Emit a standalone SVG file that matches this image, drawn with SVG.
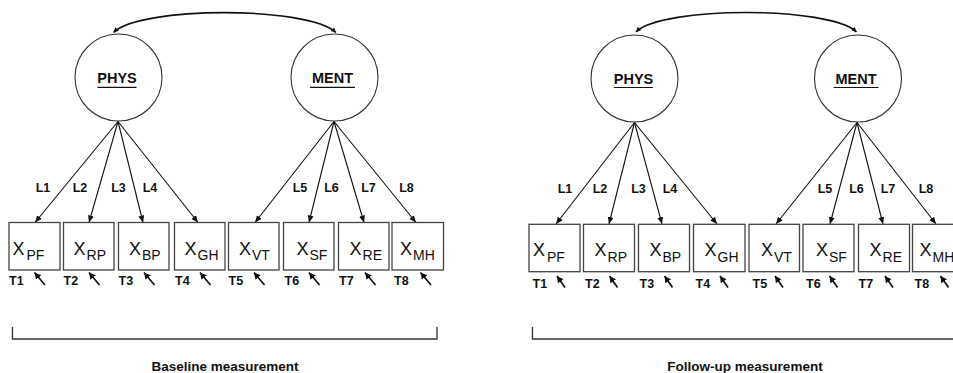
<svg xmlns="http://www.w3.org/2000/svg" width="953" height="373" viewBox="0 0 953 373">
<style>
  text { font-family: "Liberation Sans", Arial, sans-serif; fill: #111; }
  .lat { fill: #fff; stroke: #333; stroke-width: 1.1; }
  .lname { font-weight: bold; font-size: 14.5px; text-anchor: middle; }
  .ul { stroke: #111; stroke-width: 1.2; }
  .box { fill: #fff; stroke: #444; stroke-width: 1.3; }
  .xv { font-size: 18px; }
  .sub { font-size: 14px; }
  .lab { font-weight: bold; font-size: 12.5px; text-anchor: middle; }
  .tl { font-weight: bold; font-size: 12.5px; }
  .load { stroke: #111; stroke-width: 1.1; fill: none; marker-end: url(#ah); }
  .err { stroke: #111; stroke-width: 1.7; fill: none; marker-end: url(#ahs); }
  .cov { stroke: #111; stroke-width: 1.6; fill: none; marker-start: url(#ahc); marker-end: url(#ahc); }
  .brk { stroke: #333; stroke-width: 1.3; fill: none; }
  .cap { font-weight: bold; font-size: 13.5px; text-anchor: middle; }
</style>
<defs>
  <marker id="ah" markerUnits="userSpaceOnUse" markerWidth="10" markerHeight="10" refX="7" refY="3" orient="auto">
    <path d="M0,0 L7,3 L0,6 Z" fill="#111"/>
  </marker>
  <marker id="ahs" markerUnits="userSpaceOnUse" markerWidth="10" markerHeight="10" refX="6.5" refY="3.5" orient="auto">
    <path d="M0,0 L6.5,3.5 L0,7 Z" fill="#111"/>
  </marker>
  <marker id="ahc" markerUnits="userSpaceOnUse" markerWidth="10" markerHeight="10" refX="5" refY="2.5" orient="auto-start-reverse">
    <path d="M0,0 L5,2.5 L0,5 Z" fill="#111"/>
  </marker>
</defs>

<!-- Connectors -->
<g id="connectors">
  <!-- baseline covariance -->
  <path class="cov" d="M113.5,32.5 C140,6 308,6 336,32.5"/>
  <!-- follow-up covariance -->
  <path class="cov" d="M636,32 C662,6 830,6 856.5,32"/>
  <!-- baseline loadings -->
  <line class="load" x1="118" y1="121.5" x2="35" y2="222.5"/>
  <line class="load" x1="118" y1="121.5" x2="89" y2="222.5"/>
  <line class="load" x1="118" y1="121.5" x2="143" y2="222.5"/>
  <line class="load" x1="118" y1="121.5" x2="198" y2="222.5"/>
  <line class="load" x1="334" y1="121.5" x2="255" y2="222.5"/>
  <line class="load" x1="334" y1="121.5" x2="309" y2="222.5"/>
  <line class="load" x1="334" y1="121.5" x2="364" y2="222.5"/>
  <line class="load" x1="334" y1="121.5" x2="416" y2="222.5"/>
  <!-- follow-up loadings -->
  <line class="load" x1="634.5" y1="122.5" x2="556" y2="224"/>
  <line class="load" x1="634.5" y1="122.5" x2="609" y2="224"/>
  <line class="load" x1="634.5" y1="122.5" x2="662" y2="224"/>
  <line class="load" x1="634.5" y1="122.5" x2="717" y2="224"/>
  <line class="load" x1="857" y1="122.5" x2="776" y2="224"/>
  <line class="load" x1="857" y1="122.5" x2="830" y2="224"/>
  <line class="load" x1="857" y1="122.5" x2="883" y2="224"/>
  <line class="load" x1="857" y1="122.5" x2="936" y2="224"/>
  <!-- baseline error arrows -->
  <line class="err" x1="45" y1="285" x2="34.5" y2="272.5"/>
  <line class="err" x1="99.5" y1="285" x2="89" y2="272.5"/>
  <line class="err" x1="154.5" y1="285" x2="144" y2="272.5"/>
  <line class="err" x1="210.5" y1="285" x2="200" y2="272.5"/>
  <line class="err" x1="264.5" y1="285" x2="254" y2="272.5"/>
  <line class="err" x1="319.5" y1="285" x2="309" y2="272.5"/>
  <line class="err" x1="375.5" y1="285" x2="365" y2="272.5"/>
  <line class="err" x1="431" y1="285" x2="420.5" y2="272.5"/>
  <!-- follow-up error arrows -->
  <line class="err" x1="565" y1="287.5" x2="557" y2="276"/>
  <line class="err" x1="617.5" y1="287.5" x2="609.5" y2="276"/>
  <line class="err" x1="672.5" y1="287.5" x2="664.5" y2="276"/>
  <line class="err" x1="728" y1="287.5" x2="720" y2="276"/>
  <line class="err" x1="783" y1="287.5" x2="775" y2="276"/>
  <line class="err" x1="837.5" y1="287.5" x2="829.5" y2="276"/>
  <line class="err" x1="893" y1="287.5" x2="885" y2="276"/>
  <line class="err" x1="948.5" y1="287.5" x2="940.5" y2="276"/>
</g>

<!-- Baseline latent factors -->
<g id="phys-baseline">
  <circle class="lat" cx="118.5" cy="77.5" r="43.5"/>
  <text class="lname" x="117" y="83">PHYS</text>
  <line class="ul" x1="97.5" y1="87.3" x2="136.5" y2="87.3"/>
</g>
<g id="ment-baseline">
  <circle class="lat" cx="334.5" cy="77.5" r="43.5"/>
  <text class="lname" x="332.5" y="83">MENT</text>
  <line class="ul" x1="310" y1="87.3" x2="355" y2="87.3"/>
</g>

<!-- Follow-up latent factors -->
<g id="phys-followup">
  <circle class="lat" cx="634.5" cy="78.5" r="43.5"/>
  <text class="lname" x="633.5" y="83.5">PHYS</text>
  <line class="ul" x1="614" y1="87.5" x2="653" y2="87.5"/>
</g>
<g id="ment-followup">
  <circle class="lat" cx="858" cy="78.5" r="43.5"/>
  <text class="lname" x="856" y="83.5">MENT</text>
  <line class="ul" x1="833.5" y1="87.5" x2="878.5" y2="87.5"/>
</g>

<!-- Loading labels -->
<g id="loading-labels">
  <text class="lab" x="43" y="192">L1</text>
  <text class="lab" x="80" y="192">L2</text>
  <text class="lab" x="118.5" y="192">L3</text>
  <text class="lab" x="150" y="192">L4</text>
  <text class="lab" x="300" y="192">L5</text>
  <text class="lab" x="331.5" y="192">L6</text>
  <text class="lab" x="368.5" y="192">L7</text>
  <text class="lab" x="406.5" y="192">L8</text>
  <text class="lab" x="565" y="192.5">L1</text>
  <text class="lab" x="600" y="192.5">L2</text>
  <text class="lab" x="638.5" y="192.5">L3</text>
  <text class="lab" x="670" y="192.5">L4</text>
  <text class="lab" x="825" y="192.5">L5</text>
  <text class="lab" x="856.5" y="192.5">L6</text>
  <text class="lab" x="888" y="192.5">L7</text>
  <text class="lab" x="926" y="192.5">L8</text>
</g>

<!-- Baseline indicators -->
<g id="x-pf-baseline">
  <rect class="box" x="9" y="222.5" width="51" height="47.5"/>
  <text class="xv" x="12.5" y="255">X<tspan class="sub" dx="2" dy="5">PF</tspan></text>
  <text class="tl" x="9" y="285">T1</text>
</g>
<g id="x-rp-baseline">
  <rect class="box" x="63.5" y="222.5" width="50.5" height="47.5"/>
  <text class="xv" x="73.5" y="255">X<tspan class="sub" dx="1" dy="5">RP</tspan></text>
  <text class="tl" x="63.5" y="285">T2</text>
</g>
<g id="x-bp-baseline">
  <rect class="box" x="118.5" y="222.5" width="50.5" height="47.5"/>
  <text class="xv" x="129" y="255">X<tspan class="sub" dx="1" dy="5">BP</tspan></text>
  <text class="tl" x="118.5" y="285">T3</text>
</g>
<g id="x-gh-baseline">
  <rect class="box" x="174.5" y="222.5" width="50.5" height="47.5"/>
  <text class="xv" x="184.5" y="255">X<tspan class="sub" dx="1" dy="5">GH</tspan></text>
  <text class="tl" x="175" y="285">T4</text>
</g>
<g id="x-vt-baseline">
  <rect class="box" x="228.5" y="222.5" width="50.5" height="47.5"/>
  <text class="xv" x="239" y="255">X<tspan class="sub" dx="1" dy="5">VT</tspan></text>
  <text class="tl" x="228.5" y="285">T5</text>
</g>
<g id="x-sf-baseline">
  <rect class="box" x="283.5" y="222.5" width="50.5" height="47.5"/>
  <text class="xv" x="296.5" y="255">X<tspan class="sub" dx="1" dy="5">SF</tspan></text>
  <text class="tl" x="284.5" y="285">T6</text>
</g>
<g id="x-re-baseline">
  <rect class="box" x="338.5" y="222.5" width="50.5" height="47.5"/>
  <text class="xv" x="349.5" y="255">X<tspan class="sub" dx="1" dy="5">RE</tspan></text>
  <text class="tl" x="339" y="285">T7</text>
</g>
<g id="x-mh-baseline">
  <rect class="box" x="392" y="222.5" width="51.5" height="47.5"/>
  <text class="xv" x="400" y="255">X<tspan class="sub" dx="1" dy="5">MH</tspan></text>
  <text class="tl" x="394" y="285">T8</text>
</g>

<!-- Follow-up indicators -->
<g id="x-pf-followup">
  <rect class="box" x="529" y="224.3" width="51" height="47.4"/>
  <text class="xv" x="533" y="256">X<tspan class="sub" dx="2" dy="5.5">PF</tspan></text>
  <text class="tl" x="532.5" y="287.5">T1</text>
</g>
<g id="x-rp-followup">
  <rect class="box" x="583.5" y="224.3" width="51" height="47.4"/>
  <text class="xv" x="594.5" y="256">X<tspan class="sub" dx="1" dy="5.5">RP</tspan></text>
  <text class="tl" x="585" y="287.5">T2</text>
</g>
<g id="x-bp-followup">
  <rect class="box" x="638.5" y="224.3" width="51" height="47.4"/>
  <text class="xv" x="649.5" y="256">X<tspan class="sub" dx="1" dy="5.5">BP</tspan></text>
  <text class="tl" x="639.5" y="287.5">T3</text>
</g>
<g id="x-gh-followup">
  <rect class="box" x="693.5" y="224.3" width="51.5" height="47.4"/>
  <text class="xv" x="704.5" y="256">X<tspan class="sub" dx="1" dy="5.5">GH</tspan></text>
  <text class="tl" x="695.5" y="287.5">T4</text>
</g>
<g id="x-vt-followup">
  <rect class="box" x="749" y="224.3" width="50.5" height="47.4"/>
  <text class="xv" x="761" y="256">X<tspan class="sub" dx="1" dy="5.5">VT</tspan></text>
  <text class="tl" x="752.5" y="287.5">T5</text>
</g>
<g id="x-sf-followup">
  <rect class="box" x="803" y="224.3" width="51" height="47.4"/>
  <text class="xv" x="816" y="256">X<tspan class="sub" dx="1" dy="5.5">SF</tspan></text>
  <text class="tl" x="806" y="287.5">T6</text>
</g>
<g id="x-re-followup">
  <rect class="box" x="858.5" y="224.3" width="51" height="47.4"/>
  <text class="xv" x="869.5" y="256">X<tspan class="sub" dx="1" dy="5.5">RE</tspan></text>
  <text class="tl" x="858.5" y="287.5">T7</text>
</g>
<g id="x-mh-followup">
  <rect class="box" x="912.5" y="224.3" width="51" height="47.4"/>
  <text class="xv" x="919.5" y="256">X<tspan class="sub" dx="1" dy="5.5">MH</tspan></text>
  <text class="tl" x="914.5" y="287.5">T8</text>
</g>

<!-- Brackets and captions -->
<g id="baseline-bracket">
  <path class="brk" d="M12.5,327 V339 H437 V327"/>
  <text class="cap" x="225" y="370.5">Baseline measurement</text>
</g>
<g id="followup-bracket">
  <path class="brk" d="M532.5,327 V339 H960"/>
  <text class="cap" x="745" y="370.5">Follow-up measurement</text>
</g>
</svg>
